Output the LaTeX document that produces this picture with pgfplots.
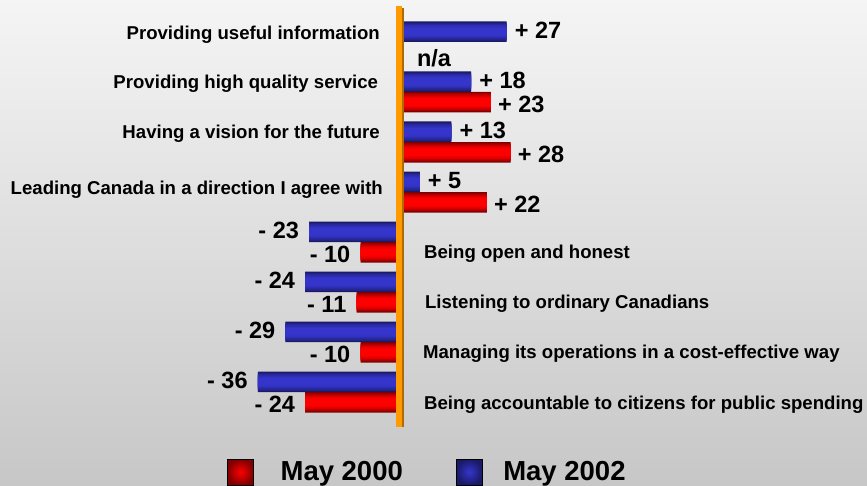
\documentclass[border=0pt]{standalone}
\usepackage{pgfplots}
\usepackage{pgfplotstable}
\pgfplotsset{compat=1.18}
\usepackage{fontspec}
\setmainfont{Liberation Sans}
\definecolor{bluemid}{HTML}{3535CC}
\definecolor{blueedge}{HTML}{1A1A66}
\definecolor{redmid}{HTML}{FF0000}
\definecolor{rededge}{HTML}{800000}
\definecolor{orangeline}{HTML}{FF9A00}
\definecolor{orangedark}{HTML}{B06A00}

% May 2002 (blue)
\pgfplotstableread[col sep=comma]{
x,y,label
27,-0.205,+ 27
18,0.795,+ 18
13,1.795,+ 13
5,2.795,+ 5
}\bluepos
\pgfplotstableread[col sep=comma]{
x,y,label
-23,3.795,- 23
-24,4.795,- 24
-29,5.795,- 29
-36,6.795,- 36
}\blueneg
% May 2000 (red)
\pgfplotstableread[col sep=comma]{
x,y,label
23,1.205,+ 23
28,2.205,+ 28
22,3.205,+ 22
}\redpos
\pgfplotstableread[col sep=comma]{
x,y,label
-10,4.205,- 10
-11,5.205,- 11
-10,6.205,- 10
-24,7.205,- 24
}\redneg

\pgfplotsset{
  lay/.style 2 args={xbar, bar shift=0pt, bar width=#1, draw=none, fill=#2, forget plot},
  vallab/.style={only marks, mark=none, forget plot, nodes near coords,
    every node near coord/.append style={inner sep=0pt, text=black,
      font=\fontsize{23.5bp}{27bp}\selectfont\bfseries, #1}},
}
\newcommand{\shadedbars}[3]{%
  \addplot[lay={0.41}{#3}] table[x=x,y=y] {#1};
  \addplot[lay={0.36}{#2!30!#3}] table[x=x,y=y] {#1};
  \addplot[lay={0.31}{#2!52!#3}] table[x=x,y=y] {#1};
  \addplot[lay={0.26}{#2!72!#3}] table[x=x,y=y] {#1};
  \addplot[lay={0.21}{#2!88!#3}] table[x=x,y=y] {#1};
  \addplot[lay={0.15}{#2}] table[x=x,y=y] {#1};
}
\begin{document}
\begin{tikzpicture}
\shade[top color=black!4, middle color=black!11, bottom color=black!22] (0,0) rectangle (867bp,486bp);
\begin{axis}[
  at={(0,0)}, anchor=south west,
  scale only axis, width=867bp, height=486bp,
  xmin=-101.27, xmax=118.23, ymin=-0.84, ymax=8.88,
  y dir=reverse, hide axis, clip=false,
  legend columns=2,
  legend style={at={(axis cs:-43.8,8.6)}, anchor=west, draw=none, fill=none,
    inner sep=0pt, font=\fontsize{27.5bp}{30bp}\selectfont\bfseries,
    /tikz/column 1/.style={column sep=25bp},
    /tikz/column 2/.style={column sep=51bp},
    /tikz/column 3/.style={column sep=19bp}},
]
\shadedbars{\bluepos}{bluemid}{blueedge}
\shadedbars{\blueneg}{bluemid}{blueedge}
\shadedbars{\redpos}{redmid}{rededge}
\shadedbars{\redneg}{redmid}{rededge}

\addplot[vallab={anchor=west, xshift=8bp, yshift=1bp}, point meta=explicit symbolic]
  table[x=x,y=y,meta=label] {\bluepos};
\addplot[vallab={anchor=east, xshift=-10bp, yshift=1bp}, point meta=explicit symbolic]
  table[x=x,y=y,meta=label] {\blueneg};
\addplot[vallab={anchor=west, xshift=7bp, yshift=-2.5bp}, point meta=explicit symbolic]
  table[x=x,y=y,meta=label] {\redpos};
\addplot[vallab={anchor=east, xshift=-10bp, yshift=-2.5bp}, point meta=explicit symbolic]
  table[x=x,y=y,meta=label] {\redneg};

\addlegendimage{legend image code/.code={\path[inner color=redmid, outer color=rededge] (0bp,-13bp) rectangle (26bp,13bp);}}
\addlegendentry{May 2000}
\addlegendimage{legend image code/.code={\path[inner color=bluemid, outer color=blueedge] (0bp,-13bp) rectangle (26bp,13bp);}}
\addlegendentry{May 2002}

% zero line
\fill[orangeline] (axis cs:-1.01,-0.72) rectangle (axis cs:0.51,7.7);
\fill[orangedark] (axis cs:0.51,-0.68) rectangle (axis cs:1.01,7.7);

\node[font=\fontsize{23.5bp}{27bp}\selectfont\bfseries, inner sep=0pt] at (axis cs:8.6,0.32) {n/a};

\tikzset{catl/.style={inner sep=0pt, font=\fontsize{18.6bp}{22bp}\selectfont\bfseries}}
\node[catl, anchor=base east] at (axis cs:-5.06,-0.04) {Providing useful information};
\node[catl, anchor=base east] at (axis cs:-5.5,0.926) {Providing high quality service};
\node[catl, anchor=base east] at (axis cs:-5.06,1.926) {Having a vision for the future};
\node[catl, anchor=base east] at (axis cs:-4.3,3.046) {Leading Canada in a direction I agree with};
\node[catl, anchor=base west] at (axis cs:6.08,4.326) {Being open and honest};
\node[catl, anchor=base west] at (axis cs:6.3,5.326) {Listening to ordinary Canadians};
\node[catl, anchor=base west] at (axis cs:5.8,6.326) {Managing its operations in a cost-effective way};
\node[catl, anchor=base west] at (axis cs:6.08,7.34) {Being accountable to citizens for public spending};
\end{axis}
\pgfresetboundingbox
\path[use as bounding box] (0,0) rectangle (867bp,486bp);
\end{tikzpicture}
\end{document}
